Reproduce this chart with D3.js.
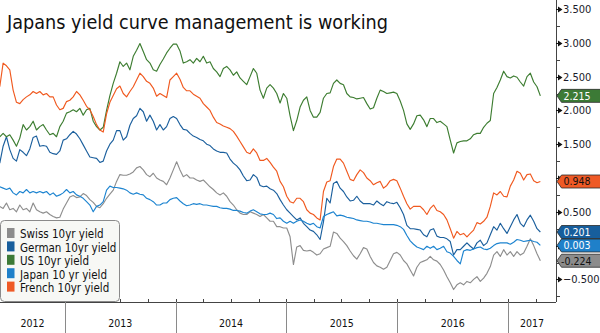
<!DOCTYPE html>
<html>
<head>
<meta charset="utf-8">
<script src="https://cdn.jsdelivr.net/npm/d3@7"></script>
<style>
  body { margin: 0; background: #fff; }
  svg { display: block; }
</style>
</head>
<body>
<svg id="chart" width="600" height="333"></svg>
<script>
// ---- data -------------------------------------------------------------
const title = "Japans yield curve management is working";
const seriesNames = ["Swiss 10yr yield", "German 10yr yield", "US 10yr yield", "Japan 10 yr yield", "French 10yr yield"];

// observations every 11 days starting 31 May 2012
const firstDay = new Date(2012, 4, 31);
const stepDays = 11;

const swiss = [
  0.58,0.55,0.63,0.53,0.55,0.50,0.60,0.53,0.55,0.50,0.63,0.53,0.50,0.48,0.50,0.46,0.43,0.41,0.42,0.54,
  0.63,0.72,0.74,0.71,0.72,0.77,0.74,0.68,0.64,0.58,0.56,0.62,0.70,0.76,0.82,0.95,1.05,1.04,1.04,1.06,
  1.09,1.15,
  1.17,1.12,1.05,1.02,1.07,1.00,0.97,0.95,0.90,1.00,1.12,1.24,1.12,1.02,1.05,1.00,1.00,0.97,0.95,0.97,
  0.92,0.87,0.83,0.78,0.75,0.78,0.73,0.65,0.60,0.53,0.48,0.46,0.46,0.50,0.48,0.46,0.43,0.46,0.41,0.36,
  0.36,0.28,
  0.28,0.26,0.26,0.13,-0.28,-0.02,0.00,-0.07,-0.08,-0.07,-0.10,-0.14,-0.12,-0.05,-0.03,-0.01,0.20,0.18,0.11,0.06,
  0.00,-0.08,-0.15,-0.20,-0.12,-0.03,-0.05,-0.16,-0.25,-0.30,-0.32,-0.35,-0.32,-0.22,-0.12,-0.10,-0.14,-0.22,-0.27,-0.36,
  -0.45,-0.32,
  -0.25,-0.23,-0.21,-0.16,-0.21,-0.23,-0.28,-0.36,-0.46,-0.55,-0.65,-0.58,-0.55,-0.58,-0.53,-0.55,-0.50,-0.46,-0.53,-0.48,
  -0.41,-0.31,-0.14,-0.09,-0.16,-0.06,-0.14,-0.09,-0.16,-0.09,-0.14,-0.11,-0.01,0.10,0.00,-0.12,-0.224
];

const german = [
  1.22,1.47,1.61,1.42,1.29,1.25,1.42,1.38,1.33,1.43,1.60,1.62,1.47,1.48,1.47,1.38,1.36,1.35,1.40,1.56,
  1.58,1.64,1.69,1.65,1.58,1.49,1.40,1.31,1.30,1.29,1.23,1.25,1.40,1.50,1.56,1.70,1.70,1.56,1.61,1.78,
  1.88,1.92,
  2.03,1.98,1.84,1.93,1.84,1.71,1.79,1.71,1.76,1.88,1.91,1.88,1.79,1.72,1.71,1.66,1.62,1.60,1.57,1.55,
  1.50,1.48,1.43,1.40,1.38,1.38,1.37,1.28,1.22,1.18,1.12,1.03,0.96,0.97,1.05,1.01,0.89,0.87,0.88,0.84,
  0.82,0.77,
  0.68,0.60,0.53,0.48,0.43,0.38,0.41,0.33,0.28,0.23,0.21,0.16,0.09,0.35,0.70,0.63,0.92,0.95,0.85,0.80,
  0.72,0.66,0.67,0.73,0.66,0.62,0.62,0.62,0.60,0.66,0.62,0.59,0.65,0.63,0.62,0.64,0.56,0.46,0.30,0.25,
  0.25,0.24,
  0.23,0.16,0.13,0.23,0.25,0.14,0.12,0.12,0.10,0.06,-0.14,-0.06,-0.06,-0.01,0.04,-0.01,-0.05,0.04,0.08,0.00,
  0.04,0.16,0.28,0.23,0.33,0.25,0.18,0.28,0.38,0.46,0.33,0.28,0.38,0.45,0.36,0.25,0.201
];

const us = [
  1.61,1.66,1.61,1.64,1.56,1.47,1.59,1.79,1.71,1.76,1.84,1.71,1.76,1.79,1.71,1.64,1.66,1.61,1.76,1.84,
  1.96,1.98,2.01,1.98,2.03,1.93,2.01,2.03,1.84,1.76,1.71,1.75,2.00,2.22,2.40,2.55,2.72,2.65,2.70,2.60,
  2.80,2.89,
  2.99,2.87,2.75,2.70,2.60,2.58,2.68,2.76,2.85,2.92,2.98,2.98,2.88,2.70,2.72,2.75,2.70,2.77,2.72,2.80,
  2.70,2.72,2.62,2.57,2.50,2.62,2.65,2.60,2.52,2.57,2.48,2.43,2.38,2.50,2.62,2.55,2.30,2.18,2.33,2.38,
  2.33,2.25,
  2.11,2.25,2.18,1.92,1.70,1.85,2.05,2.15,2.20,2.00,1.90,1.90,1.97,2.18,2.25,2.26,2.40,2.45,2.40,2.38,
  2.25,2.20,2.19,2.17,2.18,2.19,2.10,2.02,2.04,2.18,2.30,2.28,2.25,2.26,2.27,2.25,2.14,2.00,1.80,1.72,
  1.80,1.92,
  1.93,1.86,1.76,1.88,1.88,1.82,1.84,1.80,1.76,1.56,1.37,1.52,1.54,1.55,1.55,1.58,1.64,1.66,1.66,1.75,
  1.81,1.85,2.25,2.34,2.45,2.58,2.50,2.48,2.51,2.49,2.42,2.36,2.50,2.55,2.42,2.35,2.215
];

const japan = [
  0.87,0.85,0.83,0.85,0.78,0.75,0.80,0.78,0.83,0.78,0.80,0.78,0.80,0.78,0.80,0.75,0.78,0.73,0.75,0.78,
  0.83,0.78,0.80,0.75,0.73,0.70,0.65,0.60,0.50,0.58,0.60,0.65,0.82,0.88,0.86,0.86,0.85,0.84,0.82,0.78,
  0.76,0.78,
  0.76,0.75,0.70,0.68,0.65,0.60,0.60,0.63,0.63,0.68,0.70,0.71,0.66,0.62,0.59,0.60,0.62,0.61,0.62,0.60,
  0.60,0.59,0.58,0.58,0.56,0.55,0.55,0.54,0.52,0.52,0.51,0.49,0.48,0.51,0.53,0.50,0.47,0.46,0.46,0.48,
  0.46,0.40,
  0.41,0.36,0.33,0.36,0.33,0.36,0.38,0.36,0.33,0.31,0.33,0.28,0.26,0.43,0.46,0.48,0.50,0.44,0.45,0.44,
  0.42,0.41,0.40,0.38,0.37,0.36,0.36,0.35,0.33,0.33,0.32,0.31,0.31,0.31,0.31,0.30,0.28,0.24,0.15,0.07,
  0.02,-0.02,
  -0.04,-0.06,-0.01,-0.04,-0.01,-0.06,-0.04,-0.01,-0.09,-0.11,-0.16,-0.22,-0.27,-0.08,-0.06,-0.07,-0.05,-0.03,-0.02,-0.05,
  -0.06,-0.04,0.00,0.03,0.04,0.04,0.04,0.02,0.05,0.09,0.08,0.06,0.07,0.08,0.06,0.05,0.003
];

const french = [
  2.35,2.70,2.66,2.60,2.30,2.12,2.10,2.16,2.20,2.23,2.28,2.25,2.28,2.23,2.25,2.20,2.20,2.08,2.01,2.03,
  2.13,2.15,2.20,2.28,2.23,2.15,2.06,2.01,1.91,1.79,1.71,1.68,1.95,2.12,2.22,2.32,2.36,2.25,2.20,2.28,
  2.35,2.45,
  2.55,2.50,2.43,2.40,2.33,2.21,2.25,2.22,2.19,2.45,2.50,2.55,2.46,2.34,2.29,2.29,2.24,2.21,2.18,2.10,
  2.05,2.00,1.90,1.82,1.80,1.77,1.75,1.73,1.69,1.62,1.54,1.46,1.38,1.36,1.43,1.37,1.26,1.26,1.29,1.23,
  1.16,1.10,
  0.95,0.87,0.73,0.65,0.63,0.70,0.70,0.65,0.53,0.48,0.46,0.41,0.38,0.80,0.94,0.96,1.17,1.28,1.28,1.22,
  1.10,0.98,0.96,1.05,1.12,1.08,1.00,0.96,0.90,0.93,0.95,0.85,0.89,0.96,0.98,0.96,0.85,0.73,0.62,0.54,
  0.58,0.58,
  0.58,0.53,0.46,0.55,0.60,0.52,0.50,0.46,0.38,0.25,0.11,0.21,0.16,0.18,0.13,0.18,0.23,0.34,0.32,0.36,
  0.42,0.58,0.78,0.75,0.80,0.73,0.72,0.88,0.97,1.10,1.07,0.97,1.05,1.06,0.96,0.93,0.948
];

const yTickValues = [-0.5, 0, 0.5, 1, 1.5, 2, 2.5, 3, 3.5];

// ---- styling ----------------------------------------------------------
const lineColors = ["#8e8e8e", "#1b5f9d", "#3d7d31", "#1d84d0", "#f0591f"];
const tagColors  = ["#8c8c8c", "#175e9c", "#3c7a36", "#1f80c9", "#ef5a26"];
const tagText    = ["#111", "#fff", "#fff", "#fff", "#111"];
const fontFamily = "'DejaVu Sans Condensed', 'DejaVu Sans', sans-serif";

const W = 600, H = 333;
const plotRight = 556, plotBottom = 302;

const svg = d3.select("#chart");

const seriesValues = [swiss, german, us, japan, french];
const dates = d3.range(swiss.length).map(i => d3.timeDay.offset(firstDay, i * stepDays));

const x = d3.scaleTime()
  .domain([new Date(2013, 0, 1), new Date(2017, 0, 1)])
  .range([65, 508.2]);
const y = d3.scaleLinear().domain([-0.5, 3.5]).range([279.4, 9]);

// ---- lines -----------------------------------------------------------
svg.append("clipPath").attr("id", "plotClip")
  .append("rect").attr("x", 0).attr("y", 0).attr("width", plotRight).attr("height", plotBottom);

const line = d3.line()
  .x((d, i) => x(dates[i]))
  .y(d => y(d));

const lines = svg.append("g").attr("clip-path", "url(#plotClip)");
seriesValues.forEach((vals, s) => {
  lines.append("path")
    .datum(vals)
    .attr("d", line)
    .attr("fill", "none")
    .attr("stroke", lineColors[s])
    .attr("stroke-width", 1.15)
    .attr("stroke-linejoin", "round");
});

// ---- title -----------------------------------------------------------
svg.append("text")
  .attr("x", 7).attr("y", 29)
  .attr("font-family", fontFamily)
  .attr("font-size", 19.6)
  .attr("fill", "#111")
  .attr("textLength", 381)
  .attr("lengthAdjust", "spacingAndGlyphs")
  .text(title);

// ---- x axis ----------------------------------------------------------
const xAxis = svg.append("g");
xAxis.append("line")
  .attr("x1", 0).attr("x2", plotRight)
  .attr("y1", plotBottom + 0.5).attr("y2", plotBottom + 0.5)
  .attr("stroke", "#444").attr("stroke-width", 1);

const tStart = x.invert(0), tEnd = x.invert(plotRight);
const quarters = d3.timeMonth.every(3).range(tStart, tEnd);
xAxis.selectAll("line.q").data(quarters).join("line")
  .attr("class", "q")
  .attr("x1", d => Math.round(x(d)) + 0.5).attr("x2", d => Math.round(x(d)) + 0.5)
  .attr("y1", plotBottom - 3).attr("y2", plotBottom)
  .attr("stroke", "#444");

const yearStarts = d3.timeYear.range(tStart, tEnd);
xAxis.selectAll("line.yr").data(yearStarts).join("line")
  .attr("class", "yr")
  .attr("x1", d => Math.round(x(d)) + 0.5).attr("x2", d => Math.round(x(d)) + 0.5)
  .attr("y1", plotBottom).attr("y2", H)
  .attr("stroke", "#8a8a8a");

const years = d3.timeYear.range(d3.timeYear.floor(tStart), tEnd);
xAxis.selectAll("text").data(years).join("text")
  .attr("x", d => {
    const a = Math.max(0, x(d));
    const b = Math.min(plotRight, x(d3.timeYear.offset(d, 1)));
    return (a + b) / 2;
  })
  .attr("y", 326.5)
  .attr("text-anchor", "middle")
  .attr("font-family", fontFamily)
  .attr("font-size", 10.5)
  .attr("fill", "#111")
  .text(d => d3.timeFormat("%Y")(d));

// ---- last-value tags (positions first, so covered tick labels can be skipped) ----
const tagH = 13;
const tags = seriesValues.map((vals, s) => ({ s, v: vals[vals.length - 1], y: y(vals[vals.length - 1]) }))
  .sort((a, b) => a.y - b.y);
for (let i = 1; i < tags.length; i++) {
  if (tags[i].y - tags[i - 1].y < tagH + 0.5) tags[i].y = tags[i - 1].y + tagH + 0.5;
}
const coveredByTag = v => tags.some(t => Math.abs(y(v) - t.y) < tagH / 2 + 4);

// ---- y axis (right) -------------------------------------------------
const yAxis = svg.append("g");
yAxis.append("line")
  .attr("x1", plotRight + 0.5).attr("x2", plotRight + 0.5)
  .attr("y1", 0).attr("y2", plotBottom)
  .attr("stroke", "#444");

const minor = d3.range(-0.75, 3.6, 0.5).filter(v => y(v) > 0 && y(v) < plotBottom);
yAxis.selectAll("line.minor").data(minor).join("line")
  .attr("class", "minor")
  .attr("x1", plotRight).attr("x2", plotRight + 4)
  .attr("y1", d => Math.round(y(d)) + 0.5).attr("y2", d => Math.round(y(d)) + 0.5)
  .attr("stroke", "#444");

yAxis.selectAll("path.major").data(yTickValues).join("path")
  .attr("class", "major")
  .attr("d", d => {
    const yy = Math.round(y(d)) + 0.5;
    return `M${plotRight},${yy - 0.6}L${plotRight + 2},${yy - 0.6}L${plotRight + 2},${yy - 3}L${plotRight + 6.5},${yy}L${plotRight + 2},${yy + 3}L${plotRight + 2},${yy + 0.6}L${plotRight},${yy + 0.6}Z`;
  })
  .attr("fill", "#111");

yAxis.selectAll("text").data(yTickValues.filter(v => !coveredByTag(v))).join("text")
  .attr("x", plotRight + 7)
  .attr("y", d => y(d))
  .attr("dy", "0.36em")
  .attr("font-family", fontFamily)
  .attr("font-size", 11)
  .attr("fill", "#1a1a2a")
  .text(d => d3.format(".3f")(d));

// ---- tags --------------------------------------------------------------
const tagG = svg.append("g");
tags.forEach(t => {
  const cy = t.y, x0 = plotRight + 1, x1 = plotRight + 5.5, x2 = W + 2;
  tagG.append("path")
    .attr("d", `M${x0},${cy}L${x1},${cy - tagH / 2}L${x2},${cy - tagH / 2}L${x2},${cy + tagH / 2}L${x1},${cy + tagH / 2}Z`)
    .attr("fill", tagColors[t.s])
    .attr("stroke", "#2a2a2a")
    .attr("stroke-width", 0.8);
  tagG.append("text")
    .attr("x", t.v < 0 ? plotRight + 5 : plotRight + 7.5)
    .attr("y", cy)
    .attr("dy", "0.36em")
    .attr("font-family", fontFamily)
    .attr("font-size", 10.5)
    .attr("fill", tagText[t.s])
    .text((t.v < 0 ? "-" : "") + d3.format(".3f")(Math.abs(t.v)));
});

// ---- legend -----------------------------------------------------------
const legend = svg.append("g");
legend.append("rect")
  .attr("x", 0.5).attr("y", 220.5)
  .attr("width", 119).attr("height", 81)
  .attr("rx", 4)
  .attr("fill", "#f7f8f5")
  .attr("stroke", "#8a8a8a");
seriesNames.forEach((name, i) => {
  const base = 238.3 + i * 13.4;
  legend.append("rect")
    .attr("x", 7).attr("y", base - 10.3)
    .attr("width", 7.5).attr("height", 10)
    .attr("fill", tagColors[i]);
  legend.append("text")
    .attr("x", 20).attr("y", base)
    .attr("font-family", fontFamily)
    .attr("font-size", 11.5)
    .attr("fill", "#111")
    .text(name);
});
</script>
</body>
</html>
